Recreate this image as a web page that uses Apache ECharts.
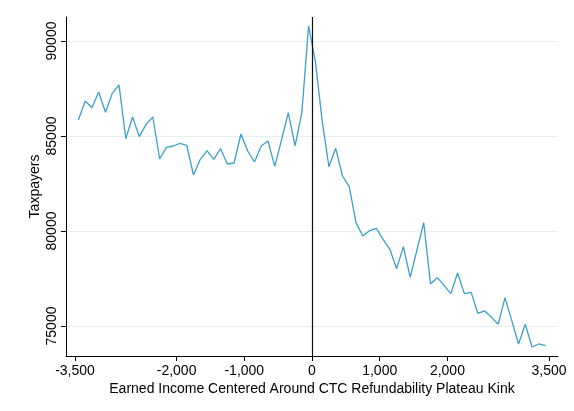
<!DOCTYPE html>
<html>
<head>
<meta charset="utf-8">
<script src="https://cdn.jsdelivr.net/npm/echarts@6/dist/echarts.min.js"></script>
<style>
html,body{margin:0;padding:0;background:#fff;}
#c{width:574px;height:411px;}
</style>
</head>
<body>
<div id="c"></div>
<script>
var binCenters = [-3450,-3350,-3250,-3150,-3050,-2950,-2850,-2750,-2650,-2550,-2450,-2350,-2250,-2150,-2050,-1950,-1850,-1750,-1650,-1550,-1450,-1350,-1250,-1150,-1050,-950,-850,-750,-650,-550,-450,-350,-250,-150,-50,50,150,250,350,450,550,650,750,850,950,1050,1150,1250,1350,1450,1550,1650,1750,1850,1950,2050,2150,2250,2350,2450,2550,2650,2750,2850,2950,3050,3150,3250,3350,3450];
var taxpayers = [85842,86842,86490,87316,86246,87246,87684,84860,86000,84965,85614,86000,83789,84404,84474,84614,84509,82947,83772,84228,83772,84333,83526,83579,85105,84210,83632,84474,84737,83404,84789,86228,84474,86228,90789,88912,85800,83386,84351,82895,82333,80439,79737,80018,80140,79561,79035,78017,79175,77561,79000,80439,77210,77544,77140,76702,77790,76702,76772,75667,75790,75456,75088,76491,75281,74053,75088,73895,74053,73965];
var xTicks = [-3500,-2000,-1000,0,1000,2000,3500];
var yTicks = [75000,80000,85000,90000];
var kinkAt = 0;

var data = binCenters.map(function(x,i){return [x,taxpayers[i]];});
var chart = echarts.init(document.getElementById('c'), null, {renderer:'canvas'});
var font = 'Liberation Sans, Arial, sans-serif';
chart.setOption({
  animation:false,
  backgroundColor:'#fff',
  grid:{left:66,right:16,top:17,bottom:55,containLabel:false},
  xAxis:{
    type:'value', min:-3633, max:3633,
    name:'Earned Income Centered Around CTC Refundability Plateau Kink',
    nameLocation:'middle', nameGap:26, nameMoveOverlap:false,
    nameTextStyle:{fontFamily:font,fontSize:14,color:'#000'},
    axisLine:{show:true,onZero:false,lineStyle:{color:'#000',width:1}},
    axisTick:{show:true,length:5,customValues:xTicks,lineStyle:{color:'#000'}},
    axisLabel:{customValues:xTicks,fontFamily:font,fontSize:14,color:'#000',margin:8,
      formatter:function(v){return v.toLocaleString('en-US');}},
    splitLine:{show:false}
  },
  yAxis:{
    type:'value', min:73421, max:91263,
    name:'Taxpayers', nameLocation:'middle', nameGap:24, nameMoveOverlap:false,
    nameTextStyle:{fontFamily:font,fontSize:14,color:'#000'},
    axisLine:{show:true,onZero:false,lineStyle:{color:'#000',width:1}},
    axisTick:{show:true,length:5,customValues:yTicks,lineStyle:{color:'#000'}},
    axisLabel:{customValues:yTicks,rotate:90,fontFamily:font,fontSize:14,color:'#000',margin:7,
      formatter:function(v){return String(v);}},
    splitLine:{show:true,lineStyle:{color:'#e6eff1',width:1}}
  },
  series:[{
    type:'line', data:data, showSymbol:false, symbol:'none',
    lineStyle:{color:'#3aa0cb',width:1.3},
    markLine:{silent:true,symbol:'none',label:{show:false},
      lineStyle:{color:'#111',type:'solid',width:1.2},
      data:[{xAxis:kinkAt}]}
  }]
});
</script>
</body>
</html>
